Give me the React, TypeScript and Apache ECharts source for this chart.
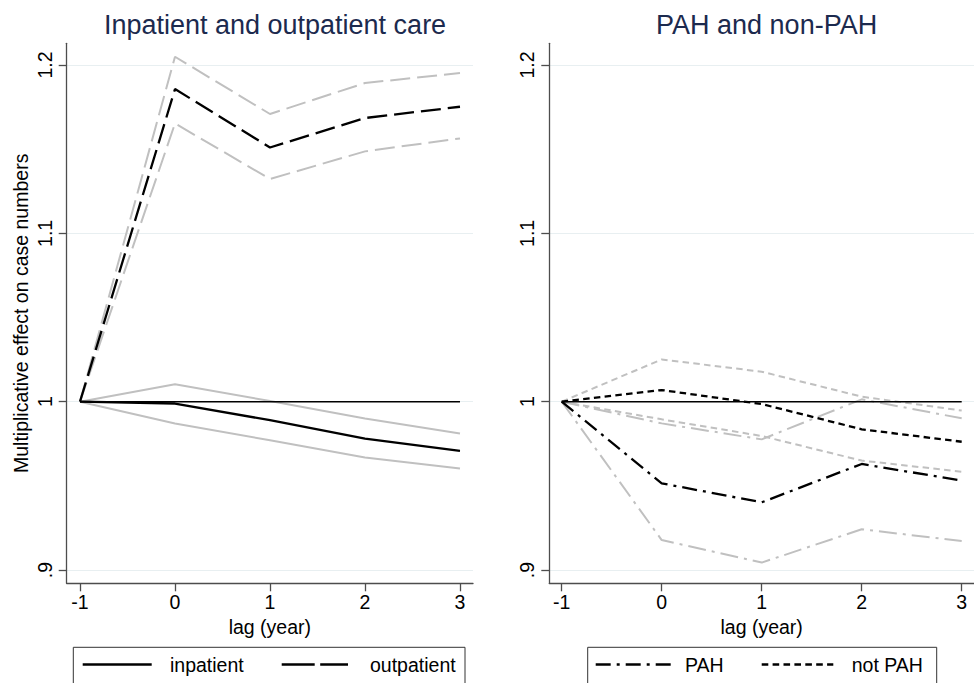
import React, { useEffect, useRef } from "react";
import * as echarts from "echarts";

const lags = [-1, 0, 1, 2, 3];
const xTicks = [-1, 0, 1, 2, 3];
const yTicks = [0.9, 1, 1.1, 1.2];
const refLine = [1, 1, 1, 1, 1];

const inpatient = [1, 0.9989, 0.989, 0.9781, 0.9708];
const inpatientHi = [1, 1.0103, 1.0004, 0.99, 0.9811];
const inpatientLo = [1, 0.987, 0.9771, 0.9668, 0.9603];
const outpatient = [1, 1.1857, 1.151, 1.1685, 1.1752];
const outpatientHi = [1, 1.2049, 1.1709, 1.1893, 1.1952];
const outpatientLo = [1, 1.1653, 1.1323, 1.1487, 1.1564];

const pah = [1, 0.9515, 0.9402, 0.963, 0.9531];
const pahHi = [1, 0.9871, 0.9776, 1.0014, 0.9901];
const pahLo = [1, 0.9178, 0.9044, 0.9242, 0.9172];
const notPah = [1, 1.0069, 0.9986, 0.9836, 0.9762];
const notPahHi = [1, 1.0251, 1.0178, 1.003, 0.9947];
const notPahLo = [1, 0.9895, 0.9796, 0.965, 0.9584];

const titles = ["Inpatient and outpatient care", "PAH and non-PAH"];
const legendLabels = ["inpatient", "outpatient", "PAH", "not PAH"];

const FONT = "'Liberation Sans', Arial, Helvetica, sans-serif";
const GRAY = "#c0c0c0";
const BLACK = "#000000";
const LONGDASH = [20, 7];
const SHORTDASH = [6.5, 4.3];
const DASHDOT = [15, 6, 3, 6];
const DASHDOT_G = [18, 6, 3, 6];

function pairs(vals: number[]) {
  return lags.map((x, i) => [x, vals[i]]);
}

function yLabel(v: number) {
  if (Math.abs(v - 1) < 1e-9) return "1";
  if (Math.abs(v - 0.9) < 1e-9) return ".9";
  return v.toFixed(1);
}

export default function App() {
  const ref = useRef<HTMLDivElement>(null);
  useEffect(() => {
    if (!ref.current) return;
    const chart = echarts.init(ref.current, null, { renderer: "svg" });

    const grids = [
      { left: 66.7, top: 43.3, width: 406.3, height: 540 },
      { left: 549.3, top: 43.3, width: 424.7, height: 540 },
    ];
    const xRanges = [
      [-1.14, 3.137],
      [-1.124, 3.123],
    ];

    const mkX = (i: number) => ({
      type: "value",
      gridIndex: i,
      min: xRanges[i][0],
      max: xRanges[i][1],
      name: "lag (year)",
      nameLocation: "middle",
      nameGap: 31,
      nameTextStyle: { fontFamily: FONT, fontSize: 19.5, color: "#000" },
      axisLine: { show: true, onZero: false, lineStyle: { color: "#4d4d4d", width: 1.3 } },
      axisTick: { show: true, inside: false, length: 8, customValues: xTicks, lineStyle: { color: "#4d4d4d", width: 1.3 } },
      axisLabel: {
        show: true,
        customValues: xTicks,
        margin: 9,
        fontFamily: FONT,
        fontSize: 19.5,
        color: "#000",
        formatter: (v: number) => String(v),
      },
      splitLine: { show: false },
    });

    const mkY = (i: number) => ({
      type: "value",
      gridIndex: i,
      min: 0.8921,
      max: 1.2129,
      name: i === 0 ? "Multiplicative effect on case numbers" : "",
      nameLocation: "middle",
      nameGap: 36,
      nameRotate: 90,
      nameTextStyle: { fontFamily: FONT, fontSize: 19.5, color: "#000" },
      axisLine: { show: true, onZero: false, lineStyle: { color: "#4d4d4d", width: 1.3 } },
      axisTick: { show: true, inside: false, length: 8, customValues: yTicks, lineStyle: { color: "#4d4d4d", width: 1.3 } },
      axisLabel: {
        show: true,
        customValues: yTicks,
        rotate: 90,
        margin: 12,
        fontFamily: FONT,
        fontSize: 19.5,
        color: "#000",
        formatter: yLabel,
      },
      splitLine: { show: true, lineStyle: { color: "#e8eff1", width: 1.2 } },
    });

    const line = (name: string, vals: number[], idx: number, color: string, width: number, type: any) => ({
      name,
      type: "line",
      xAxisIndex: idx,
      yAxisIndex: idx,
      data: pairs(vals),
      showSymbol: false,
      symbol: "none",
      silent: true,
      lineStyle: { color, width, type },
    });

    const series = [
      line("inpatient upper", inpatientHi, 0, GRAY, 2, "solid"),
      line("inpatient lower", inpatientLo, 0, GRAY, 2, "solid"),
      line("outpatient upper", outpatientHi, 0, GRAY, 2, LONGDASH),
      line("outpatient lower", outpatientLo, 0, GRAY, 2, LONGDASH),
      line("reference", refLine, 0, BLACK, 1.5, "solid"),
      line("inpatient", inpatient, 0, BLACK, 2.3, "solid"),
      line("outpatient", outpatient, 0, BLACK, 2.3, LONGDASH),

      line("PAH upper", pahHi, 1, GRAY, 2, DASHDOT_G),
      line("PAH lower", pahLo, 1, GRAY, 2, DASHDOT_G),
      line("not PAH upper", notPahHi, 1, GRAY, 2, SHORTDASH),
      line("not PAH lower", notPahLo, 1, GRAY, 2, SHORTDASH),
      line("reference 2", refLine, 1, BLACK, 1.5, "solid"),
      line("PAH", pah, 1, BLACK, 2.3, DASHDOT),
      line("not PAH", notPah, 1, BLACK, 2.3, SHORTDASH),
    ];

    const legendText = (text: string, x: number) => ({
      type: "text",
      x,
      y: 665,
      silent: true,
      style: { text, fontFamily: FONT, fontSize: 19.5, fill: "#000", align: "left", verticalAlign: "middle" },
    });
    const legendLine = (x1: number, x2: number, dash: any, w = 2.3) => ({
      type: "line",
      silent: true,
      shape: { x1, y1: 664.5, x2, y2: 664.5 },
      style: { stroke: "#000", lineWidth: w, lineDash: dash },
    });

    const graphic = [
      {
        type: "rect",
        silent: true,
        shape: { x: 73.3, y: 647.3, width: 391.7, height: 60 },
        style: { fill: "#fff", stroke: "#333", lineWidth: 1 },
      },
      {
        type: "rect",
        silent: true,
        shape: { x: 587.7, y: 647.3, width: 349, height: 60 },
        style: { fill: "#fff", stroke: "#333", lineWidth: 1 },
      },
      legendLine(82.7, 151.7, null),
      legendText(legendLabels[0], 170),
      legendLine(281.7, 348, [33, 5.5]),
      legendText(legendLabels[1], 370),
      legendLine(595.7, 671, [15, 6, 3, 6]),
      legendText(legendLabels[2], 685),
      legendLine(761.7, 833.3, [6.6, 4.3]),
      legendText(legendLabels[3], 851.7),
    ];

    chart.setOption({
      animation: false,
      backgroundColor: "#ffffff",
      title: [
        {
          text: titles[0],
          left: 270,
          top: 6,
          textAlign: "center",
          textStyle: { fontFamily: FONT, fontSize: 27, fontWeight: "normal", color: "#1c2a4e" },
        },
        {
          text: titles[1],
          left: 761.6,
          top: 6,
          textAlign: "center",
          textStyle: { fontFamily: FONT, fontSize: 27, fontWeight: "normal", color: "#1c2a4e" },
        },
      ],
      grid: grids.map((g) => ({ ...g, containLabel: false, outerBoundsMode: "none" })),
      xAxis: [mkX(0), mkX(1)],
      yAxis: [mkY(0), mkY(1)],
      series,
      graphic,
    } as any);

    return () => chart.dispose();
  }, []);

  return (
    <div
      ref={ref}
      style={{ position: "fixed", left: 0, top: 0, width: 974, height: 683, background: "#fff" }}
    />
  );
}
